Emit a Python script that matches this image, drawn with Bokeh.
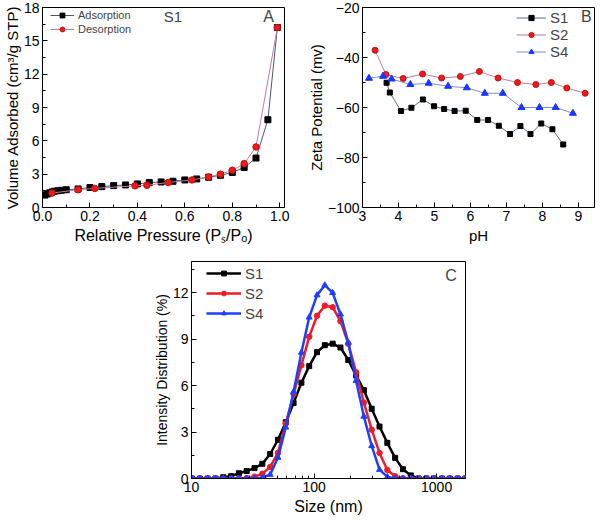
from bokeh.plotting import figure
from bokeh.models import Range1d, FixedTicker, NumeralTickFormatter, Legend, LegendItem, Label, Spacer
from bokeh.layouts import column, row
from bokeh.embed import file_html
from bokeh.resources import INLINE

FONT = "Liberation Sans"

# ---------------- Panel A: N2 isotherm (S1) ----------------
ads_p = [0.01, 0.02, 0.03, 0.04, 0.05, 0.065, 0.08, 0.10, 0.15, 0.20, 0.25, 0.30, 0.35,
         0.40, 0.45, 0.50, 0.55, 0.60, 0.65, 0.70, 0.75, 0.80, 0.85, 0.90, 0.95, 0.99]
ads_v = [1.12, 1.22, 1.32, 1.4, 1.46, 1.51, 1.55, 1.6, 1.67, 1.8, 1.88, 1.97, 2.03,
         2.12, 2.24, 2.3, 2.36, 2.48, 2.57, 2.72, 2.9, 3.16, 3.6, 4.45, 7.9, 16.2]
des_p = [0.99, 0.90, 0.85, 0.80, 0.75, 0.70, 0.63, 0.53, 0.44, 0.39, 0.22, 0.15, 0.04]
des_v = [16.2, 5.45, 3.95, 3.35, 3.0, 2.75, 2.48, 2.25, 2.0, 1.95, 1.72, 1.6, 1.3]
a_xticks = [0.0, 0.2, 0.4, 0.6, 0.8, 1.0]
a_xminor = [0.1, 0.3, 0.5, 0.7, 0.9]
a_yticks = [0, 3, 6, 9, 12, 15, 18]
a_yminor = [1.5, 4.5, 7.5, 10.5, 13.5, 16.5]

# ---------------- Panel B: zeta potential vs pH ----------------
b_s1_ph = [3.67, 3.76, 4.07, 4.36, 4.68, 4.99, 5.27, 5.56, 5.87, 6.19, 6.49, 6.79, 7.10,
           7.39, 7.67, 7.97, 8.28, 8.58]
b_s1_z = [-50.1, -54.0, -61.4, -60.1, -56.8, -59.5, -60.6, -61.4, -61.3, -65.0, -65.0, -67.3,
          -70.6, -67.4, -70.6, -66.4, -68.7, -74.8]
b_s2_ph = [3.35, 3.65, 4.13, 4.67, 5.20, 5.72, 6.25, 6.77, 7.31, 7.82, 8.25, 8.68, 9.19]
b_s2_z = [-37.1, -46.8, -48.4, -46.6, -48.2, -47.6, -45.6, -48.2, -50.0, -50.8, -50.0, -52.2, -54.3]
b_s4_ph = [3.18, 3.57, 3.81, 4.33, 4.84, 5.38, 5.90, 6.40, 6.90, 7.42, 7.92, 8.37, 8.85]
b_s4_z = [-48.3, -47.5, -48.6, -50.8, -50.3, -51.5, -52.1, -54.3, -54.3, -60.0, -60.0, -60.0, -62.3]
b_xticks = [3, 4, 5, 6, 7, 8, 9]
b_xminor = [3.5, 4.5, 5.5, 6.5, 7.5, 8.5]
b_yticks = [-100, -80, -60, -40, -20]
b_yminor = [-90, -70, -50, -30]

# ---------------- Panel C: DLS intensity distribution ----------------
c_size = [10.10, 11.70, 13.54, 15.69, 18.17, 21.04, 24.36, 28.21, 32.67, 37.84, 43.82, 50.75,
          58.77, 68.06, 78.82, 91.28, 105.7, 122.4, 141.8, 164.2, 190.1, 220.2, 255.0, 295.3,
          342.0, 396.1, 458.7, 531.2, 615.1, 712.4, 825.0, 955.4, 1106, 1281, 1484, 1718]
c_s1 = [0, 0, 0, 0, 0.08, 0.15, 0.34, 0.48, 0.67, 0.95, 1.58, 2.5,
        3.63, 4.87, 6.18, 7.25, 8.15, 8.6, 8.7, 8.45, 7.65, 6.65, 5.7, 4.5,
        3.35, 2.3, 1.33, 0.6, 0.2, 0, 0, 0, 0, 0, 0, 0]
c_s2 = [0, 0, 0, 0, 0, 0, 0, 0.03, 0.12, 0.3, 0.75, 1.65,
        3.55, 5.45, 7.3, 9.15, 10.5, 11.15, 11.05, 10.15, 8.7, 6.85, 4.9, 3.15,
        1.65, 0.55, 0.15, 0.02, 0, 0, 0, 0, 0, 0, 0, 0]
c_s4 = [0, 0, 0, 0, 0, 0, 0, 0, 0, 0.05, 0.25, 1.35,
        3.3, 5.6, 8.13, 10.4, 11.83, 12.47, 11.98, 10.6, 8.77, 6.3, 4.0, 2.1,
        0.57, 0.1, 0, 0, 0, 0, 0, 0, 0, 0, 0, 0]
c_xticks = [10, 100, 1000]
c_xminor = [20, 30, 40, 50, 60, 70, 80, 90, 200, 300, 400, 500, 600, 700, 800, 900]
c_yticks = [0, 3, 6, 9, 12]
c_yminor = [1.5, 4.5, 7.5, 10.5, 13.5]


def style(p, tick_size="14px"):
    p.xgrid.visible = False
    p.ygrid.visible = False
    p.outline_line_color = "black"
    p.outline_line_width = 1
    p.background_fill_color = "white"
    p.border_fill_color = "white"
    for ax in (p.xaxis[0], p.yaxis[0]):
        ax.axis_line_color = "black"
        ax.major_tick_line_color = "black"
        ax.minor_tick_line_color = "black"
        ax.major_tick_in = 5
        ax.major_tick_out = 0
        ax.minor_tick_in = 3
        ax.minor_tick_out = 0
        ax.major_label_text_font = FONT
        ax.major_label_text_font_size = tick_size
        ax.major_label_text_color = "black"
        ax.major_label_standoff = 3
        ax.axis_label_text_font = FONT
        ax.axis_label_text_font_style = "normal"
        ax.axis_label_text_color = "black"
    p.xaxis[0].axis_label_standoff = 3
    p.yaxis[0].axis_label_standoff = 0


# ---------- A ----------
pA = figure(width=304, height=246, output_backend="svg", toolbar_location=None,
            x_range=Range1d(0, 1.02), y_range=Range1d(0, 18),
            min_border_left=36, min_border_right=20, min_border_top=7, min_border_bottom=38)
style(pA)
pA.xaxis.ticker = FixedTicker(ticks=a_xticks, minor_ticks=a_xminor)
pA.yaxis.ticker = FixedTicker(ticks=a_yticks, minor_ticks=a_yminor)
pA.xaxis.formatter = NumeralTickFormatter(format="0.0")
pA.xaxis.axis_label = "Relative Pressure (P\u209b/P\u2092)"
pA.yaxis.axis_label = "Volume Adsorbed (cm\u00b3/g STP)"
pA.xaxis.axis_label_text_font_size = "16px"
pA.yaxis.axis_label_text_font_size = "15px"

la = pA.line(ads_p, ads_v, line_color="#4d5863", line_width=1)
sa = pA.scatter(ads_p, ads_v, marker="square", size=6, fill_color="black", line_color="black")
ld = pA.line(des_p, des_v, line_color="#b97fa0", line_width=1)
sd = pA.scatter(des_p, des_v, marker="circle", size=6.5, fill_color="#f01818", line_color="#c01010")
legA = Legend(items=[LegendItem(label="Adsorption", renderers=[la, sa]),
                     LegendItem(label="Desorption", renderers=[ld, sd])],
              location=(8, 171), background_fill_alpha=0, border_line_alpha=0,
              padding=0, margin=0, spacing=0, glyph_width=24, glyph_height=12,
              label_standoff=4, label_text_font=FONT, label_text_font_size="11px",
              label_height=14)
pA.add_layout(legA)
pA.add_layout(Label(x=0.55, y=17.2, text="S1", text_font=FONT, text_font_size="15px",
                    text_align="center", text_baseline="middle"))
pA.add_layout(Label(x=0.953, y=17.2, text="A", text_font=FONT, text_font_size="16px",
                    text_align="center", text_baseline="middle"))

# ---------- B ----------
pB = figure(width=294, height=246, output_backend="svg", toolbar_location=None,
            x_range=Range1d(3, 9.45), y_range=Range1d(-100, -20),
            min_border_left=48, min_border_right=4, min_border_top=7, min_border_bottom=38)
style(pB)
pB.xaxis.ticker = FixedTicker(ticks=b_xticks, minor_ticks=b_xminor)
pB.yaxis.ticker = FixedTicker(ticks=b_yticks, minor_ticks=b_yminor)
pB.xaxis.axis_label = "pH"
pB.yaxis.axis_label = "Zeta Potential (mv)"
pB.xaxis.axis_label_text_font_size = "15px"
pB.yaxis.axis_label_text_font_size = "15px"

l1 = pB.line(b_s1_ph, b_s1_z, line_color="#5d6e7e", line_width=1)
s1 = pB.scatter(b_s1_ph, b_s1_z, marker="square", size=5, fill_color="black", line_color="black")
l2 = pB.line(b_s2_ph, b_s2_z, line_color="#b57d9a", line_width=1)
s2 = pB.scatter(b_s2_ph, b_s2_z, marker="circle", size=6, fill_color="#f01818", line_color="#c01010")
l4 = pB.line(b_s4_ph, b_s4_z, line_color="#7d8dc8", line_width=1)
s4 = pB.scatter(b_s4_ph, b_s4_z, marker="triangle", size=7, fill_color="#1a35ff", line_color="#1a35ff")
legB = Legend(items=[LegendItem(label="S1", renderers=[l1, s1]),
                     LegendItem(label="S2", renderers=[l2, s2]),
                     LegendItem(label="S4", renderers=[l4, s4])],
              location=(154, 147), background_fill_alpha=0, border_line_alpha=0,
              padding=0, margin=0, spacing=0, glyph_width=30, glyph_height=13,
              label_standoff=4, label_text_font=FONT, label_text_font_size="15px",
              label_height=17)
pB.add_layout(legB)
pB.add_layout(Label(x=9.22, y=-23.4, text="B", text_font=FONT, text_font_size="16px",
                    text_align="center", text_baseline="middle"))

# ---------- C ----------
pC = figure(width=325, height=271, output_backend="svg", toolbar_location=None,
            x_axis_type="log", x_range=Range1d(10, 1720), y_range=Range1d(0, 14),
            min_border_left=40, min_border_right=10, min_border_top=15, min_border_bottom=38)
style(pC)
pC.xaxis.ticker = FixedTicker(ticks=c_xticks, minor_ticks=c_xminor)
pC.yaxis.ticker = FixedTicker(ticks=c_yticks, minor_ticks=c_yminor)
pC.xaxis.formatter = NumeralTickFormatter(format="0")
pC.xaxis.axis_label = "Size (nm)"
pC.yaxis.axis_label = "Intensity Distribution (%)"
pC.xaxis.axis_label_text_font_size = "16px"
pC.yaxis.axis_label_text_font_size = "14px"

k1 = pC.line(c_size, c_s1, line_color="black", line_width=2.5)
m1 = pC.scatter(c_size, c_s1, marker="square", size=5, fill_color="black", line_color="black")
k2 = pC.line(c_size, c_s2, line_color="#ee1c25", line_width=2.5)
m2 = pC.scatter(c_size, c_s2, marker="circle", size=5.5, fill_color="#ee1c25", line_color="#ee1c25")
k4 = pC.line(c_size, c_s4, line_color="#1f3fff", line_width=2.5)
m4 = pC.scatter(c_size, c_s4, marker="triangle", size=6, fill_color="#1f3fff", line_color="#1f3fff")
legC = Legend(items=[LegendItem(label="S1", renderers=[k1, m1]),
                     LegendItem(label="S2", renderers=[k2, m2]),
                     LegendItem(label="S4", renderers=[k4, m4])],
              location=(15, 155), background_fill_alpha=0, border_line_alpha=0,
              padding=0, margin=0, spacing=0, glyph_width=35, glyph_height=12,
              label_standoff=4, label_text_font=FONT, label_text_font_size="15px",
              label_height=20)
pC.add_layout(legC)
pC.add_layout(Label(x=1310, y=13.07, text="C", text_font=FONT, text_font_size="16px",
                    text_align="center", text_baseline="middle"))

layout = column(row(pA, pB), row(Spacer(width=150, height=10), pC))

open("out.html", "w").write(file_html(layout, INLINE))
